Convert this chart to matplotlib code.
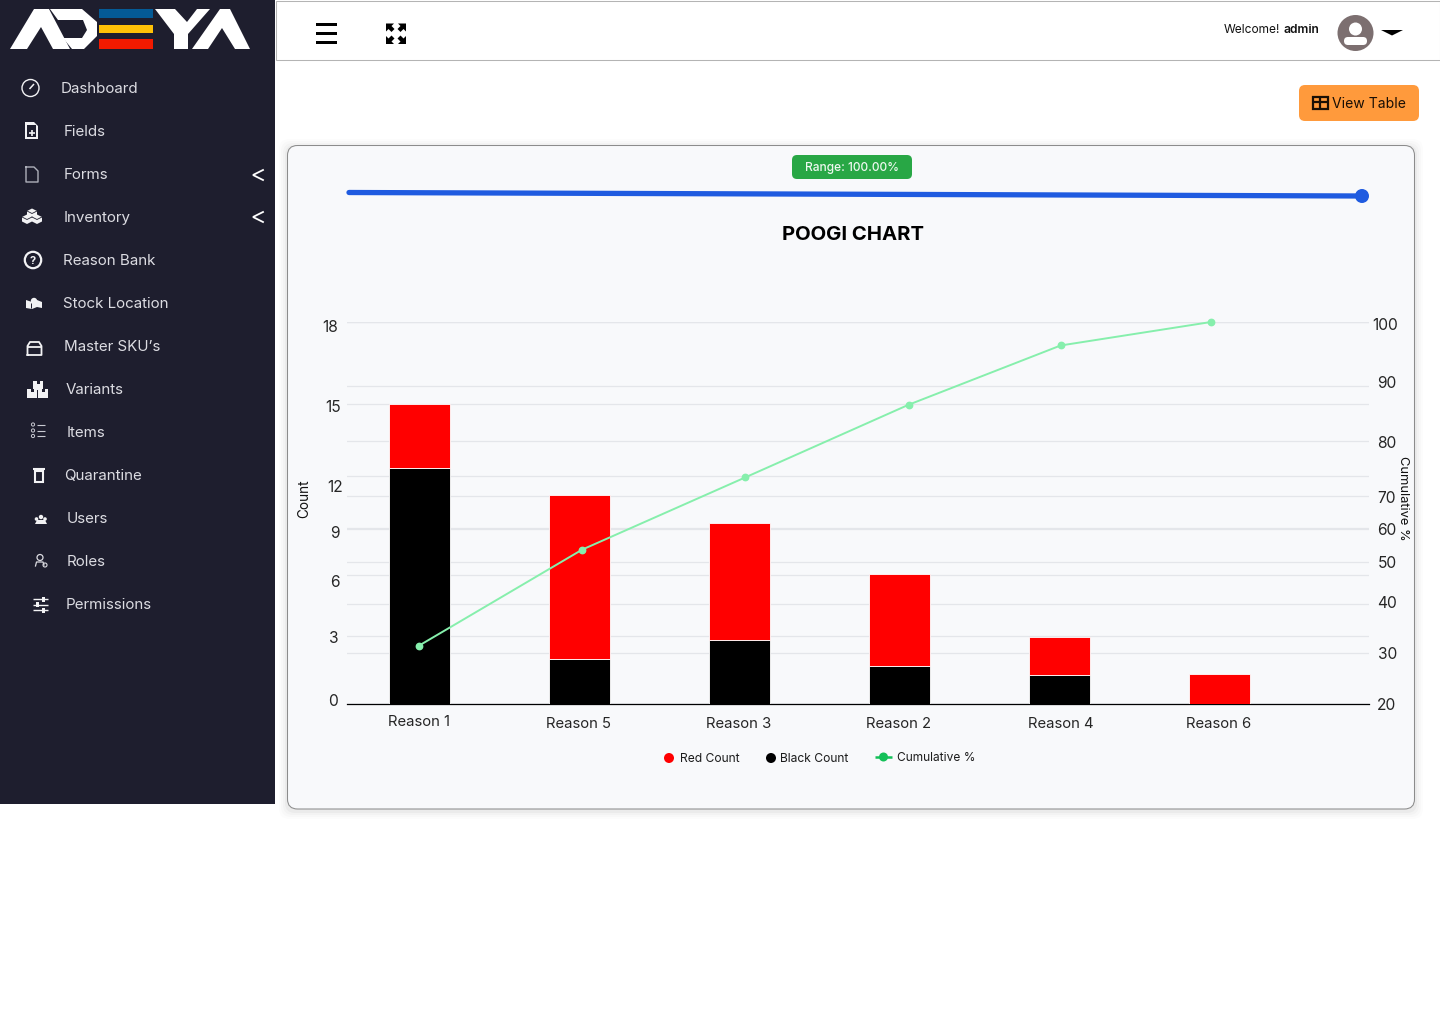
#!/usr/bin/env python3
"""POOGI chart inside the dashboard page."""

import numpy as np
import matplotlib
matplotlib.use('Agg')
import matplotlib.pyplot as plt
from matplotlib.patches import Circle, FancyBboxPatch, Polygon, Rectangle
from matplotlib.transforms import ScaledTranslation, blended_transform_factory

# --- Chart data ---
reasons = ['Reason 1', 'Reason 5', 'Reason 3', 'Reason 2', 'Reason 4', 'Reason 6']
black_count = [12.35, 2.0, 2.85, 1.7, 1.3, 0.0]
red_count = [2.65, 8.93, 6.47, 4.38, 1.67, 1.32]
line_x = [0.0, 1.02, 2.04, 3.06, 4.01, 4.95]
cumulative = [31.4, 53.6, 73.3, 86.5, 96.3, 100.0]

count_ticks = [0, 3, 6, 9, 12, 15, 18]
pct_ticks = [20, 30, 40, 50, 60, 70, 80, 90, 100]

# The printed axes are not evenly spaced, so keep tick heights (px above baseline)
count_heights = [0, 67.5, 128.5, 175.5, 227.5, 299.5, 381.5]
pct_heights = [0, 51.5, 100.5, 142.5, 175.5, 208.5, 263.5, 318.5, 382]

menu_items = ['Dashboard', 'Fields', 'Forms', 'Inventory', 'Reason Bank', 'Stock Location',
              "Master SKU\u2019s", 'Variants', 'Items', 'Quarantine', 'Users', 'Roles', 'Permissions']
menu_text_x = [61, 64, 64, 64, 63, 63, 64, 66, 67, 64, 67, 67, 66]

plt.rcParams['font.family'] = ['Inter', 'DejaVu Sans']

W, H = 1440, 1024
SIDEBAR = '#1e1e2e'
MENU_TEXT = '#dcdce2'
GRID = '#e4e6ea'

fig = plt.figure(figsize=(W / 100, H / 100), dpi=100, facecolor='white')

# --- Page chrome lives in one pixel-sized axes behind the chart ---
ui = fig.add_axes([0, 0, 1, 1], zorder=0)
ui.set_xlim(0, W)
ui.set_ylim(H, 0)
ui.axis('off')


def box(x0, y0, x1, y1, color, radius=0.0, edge='none', lw=0.0, alpha=None, z=1):
    p = FancyBboxPatch((x0, y0), x1 - x0, y1 - y0,
                       boxstyle=f'round,pad=0,rounding_size={radius}',
                       fc=color, ec=edge, lw=lw, alpha=alpha, zorder=z)
    ui.add_patch(p)


def rect(x0, y0, x1, y1, color, z=3, fill=True, lw=1.0):
    if fill:
        ui.add_patch(Rectangle((x0, y0), x1 - x0, y1 - y0, fc=color, ec='none', zorder=z))
    else:
        ui.add_patch(Rectangle((x0, y0), x1 - x0, y1 - y0, fc='none', ec=color, lw=lw, zorder=z))


def poly(pts, color, z=3):
    ui.add_patch(Polygon(pts, closed=True, fc=color, ec='none', zorder=z))


def dot(x, y, r, color, z=3, fill=True, lw=1.0):
    if fill:
        ui.add_patch(Circle((x, y), r, fc=color, ec='none', zorder=z))
    else:
        ui.add_patch(Circle((x, y), r, fc='none', ec=color, lw=lw, zorder=z))


def seg(xs, ys, color, lw=1.0, z=3):
    ui.plot(xs, ys, color=color, lw=lw, zorder=z, solid_capstyle='butt', solid_joinstyle='miter')


def label(x, y, s, size, color='#111111', weight='normal', ha='left'):
    ui.text(x, y, s, fontsize=size, color=color, fontweight=weight, ha=ha, va='center', zorder=5)


# Sidebar and header
rect(0, 0, 275, 804, SIDEBAR, z=1)
rect(275.5, 0.5, 1439.5, 59.5, '#b4b4b4', z=2, fill=False, lw=0.75)

# Logo
poly([(10, 49), (34, 9), (49, 9), (70, 49), (53, 49), (41, 27), (27, 49)], 'white')
poly([(50, 9), (82, 9), (97, 22), (97, 36), (84, 49), (72, 49), (63, 38), (82, 38), (87, 30), (83, 20), (58, 20)], 'white')
rect(99, 9, 153, 18, '#045a96')
rect(99, 25, 153, 33, '#ffc107')
rect(99, 39, 153, 49, '#f21a00')
poly([(155, 9), (175, 9), (187, 22), (197, 9), (210, 9), (188, 34), (188, 49), (174, 49), (174, 34)], 'white')
poly([(192, 49), (220, 9), (230, 9), (250, 49), (235, 49), (222, 28), (208, 49)], 'white')

# Menu
for i, (name, tx) in enumerate(zip(menu_items, menu_text_x)):
    label(tx, 89 + 43 * i, name, 10.9, MENU_TEXT)

WHITE = '#f2f2f4'
# Dashboard gauge
dot(30.5, 88, 8.5, WHITE, fill=False, lw=1.0)
seg([29.5, 34], [89, 84], WHITE, 1.1)
# Fields
poly([(25, 122), (34, 122), (38, 126), (38, 139), (25, 139)], WHITE)
rect(27, 124.5, 36, 137, SIDEBAR)
seg([28.5, 34.5], [133, 133], WHITE, 1.2)
seg([31.5, 31.5], [130, 136], WHITE, 1.2)
# Forms
ui.plot([26, 34, 38, 38, 26, 26], [167, 167, 171, 182, 182, 167], color='#aeb0ba', lw=1.0, zorder=3)
# Inventory cubes
for cx, cy in [(32, 213), (27, 219), (37, 219)]:
    poly([(cx, cy - 4.5), (cx + 5, cy - 2), (cx + 5, cy + 2.5), (cx, cy + 5), (cx - 5, cy + 2.5), (cx - 5, cy - 2)], WHITE)
    ui.plot([cx - 5, cx, cx + 5], [cy - 2, cy + 0.5, cy - 2], color=SIDEBAR, lw=0.6, zorder=4)
# Reason Bank
dot(33, 260, 8.2, WHITE, fill=False, lw=1.6)
ui.text(33, 260.5, '?', fontsize=8, color=WHITE, fontweight='bold', ha='center', va='center', zorder=5)
# Stock Location
poly([(26, 300), (32, 302), (37, 300), (42, 302), (42, 308), (37, 307), (32, 309), (26, 308)], WHITE)
dot(34, 301, 3.2, WHITE)
seg([31, 31], [303, 308], SIDEBAR, 0.7, z=4)
# Master SKU's
ui.plot([27.5, 27.5, 30, 39, 41.5, 41.5, 27.5], [355, 346, 342, 342, 346, 355, 355], color=WHITE, lw=1.3, zorder=3)
seg([27.5, 41.5], [347, 347], WHITE, 1.3)
# Variants
for bx, by in [(33, 381), (27, 389), (38, 389)]:
    rect(bx, by, bx + 10, by + 8.5, WHITE)
    rect(bx + 3.5, by, bx + 6.5, by + 3, SIDEBAR, z=4)
# Items
for yy in [424.5, 430.5, 436]:
    dot(33, yy, 1.6, '#c9cad2', fill=False, lw=0.7)
    seg([37, 45], [yy, yy], '#c9cad2', 0.8)
# Quarantine
rect(34.5, 471, 43, 482, WHITE, fill=False, lw=1.5)
seg([33, 44.5], [469, 469], WHITE, 1.5)
# Users
dot(41, 517, 2.2, WHITE)
dot(36.5, 519, 1.8, WHITE)
dot(45, 519, 1.8, WHITE)
poly([(35, 524), (37, 520), (45, 520), (47, 524)], WHITE)
# Roles
dot(40, 557.5, 3, '#dcdce2', fill=False, lw=0.9)
ui.plot([35.5, 36.5, 43, 44], [566, 562, 562, 565], color='#dcdce2', lw=0.9, zorder=3)
dot(45, 565, 2, '#dcdce2', fill=False, lw=0.8)
# Permissions
for yy, kx in [(599, 43), (604.5, 37), (610, 43)]:
    seg([33, 48], [yy, yy], WHITE, 1.0)
    rect(kx - 1.5, yy - 2.5, kx + 1.5, yy + 2.5, WHITE)
# Chevrons
for cy in [175, 217]:
    ui.plot([263, 253, 263], [cy - 5, cy, cy + 5], color='white', lw=1.3, zorder=3, solid_joinstyle='miter')

# Header icons
for yy in [24.5, 33.5, 42.5]:
    rect(316, yy - 1.5, 337, yy + 1.5, 'black')
for cx, cy, sx, sy in [(386, 23.5, 1, 1), (406, 23.5, -1, 1), (386, 44, 1, -1), (406, 44, -1, -1)]:
    poly([(cx, cy), (cx + 8 * sx, cy), (cx + 5.5 * sx, cy + 2.5 * sy), (cx + 8.5 * sx, cy + 5.5 * sy),
          (cx + 5.5 * sx, cy + 8.5 * sy), (cx + 2.5 * sx, cy + 5.5 * sy), (cx, cy + 8 * sy)], 'black')

label(1224, 30, 'Welcome!', 8.6)
label(1283, 30, 'admin', 8.7, weight='semibold')
dot(1355.5, 33, 18, '#7c6f70')
dot(1355.5, 29, 6.5, 'white')
box(1344, 37, 1367, 45, 'white', radius=4, z=4)
poly([(1381, 30), (1403, 30), (1392, 35.5)], 'black')

# View Table button
box(1299, 85, 1419, 121, '#ff9a3c', radius=6)
rect(1312.5, 97, 1327.5, 109, '#1a0f05', fill=False, lw=1.6)
seg([1312, 1328], [102, 102], '#1a0f05', 1.6)
seg([1320, 1320], [97, 109], '#1a0f05', 1.6)
label(1332, 104, 'View Table', 10.1, '#1a0f05')

# Card with a soft shadow
for grow, a in [(8, 0.012), (6, 0.015), (4, 0.02), (2, 0.03)]:
    box(287 - grow, 147 - grow, 1415 + grow, 811 + grow, 'black', radius=10, alpha=a, z=1)
box(287.5, 145.5, 1414.5, 809, '#f8f9fb', radius=10, edge='#8c8c8c', lw=0.75, z=2)

# Range slider
box(792, 155, 912, 179, '#28a745', radius=5, z=3)
ui.text(852, 168, 'Range: 100.00%', fontsize=8.6, color='#eef8f0', fontweight='medium', ha='center', va='center', zorder=5)
ui.plot([349, 1362], [192.5, 196], color='#1f5be0', lw=3.8, zorder=3, solid_capstyle='round')
dot(1362, 196, 7, '#1f5be0')

label(853, 234.5, 'POOGI CHART', 14.6, 'black', 'bold', ha='center')

# Legend
dot(669, 758, 5, '#ff0000')
label(680, 759, 'Red Count', 8.7, '#1c1c1c')
dot(771, 758, 5, 'black')
label(780, 759, 'Black Count', 8.7, '#1c1c1c')
seg([875, 892], [757, 757], '#14c058', 1.8)
dot(883.5, 757, 4.5, '#14c058')
label(897, 758, 'Cumulative %', 8.6, '#1c1c1c')

# --- Chart axes ---
left, right, top, bottom = 347, 1369, 322, 704
rect_ax = [left / W, 1 - bottom / H, (right - left) / W, (bottom - top) / H]

ax_pct = fig.add_axes(rect_ax, zorder=1)
ax = fig.add_axes(rect_ax, zorder=2, sharex=ax_pct)
ax.patch.set_visible(False)
ax_pct.patch.set_visible(False)

ax.set_yscale('function', functions=(lambda v: np.interp(v, count_ticks, count_heights),
                                     lambda h: np.interp(h, count_heights, count_ticks)))
ax_pct.set_yscale('function', functions=(lambda v: np.interp(v, pct_ticks, pct_heights),
                                         lambda h: np.interp(h, pct_heights, pct_ticks)))

x = np.arange(len(reasons))
bar_w = 61 / 160
ax.bar(x, black_count, bar_w, color='black', edgecolor='white', linewidth=0.6, zorder=3)
ax.bar(x, red_count, bar_w, bottom=black_count, color='#ff0000', edgecolor='white', linewidth=0.6, zorder=3)

# Line uses the percent scale but has to sit on top of the bars
line_tf = blended_transform_factory(ax.transData, ax_pct.transData)
ax.plot(line_x, cumulative, color='#86efac', lw=1.4, marker='o', ms=4.6, transform=line_tf, zorder=4, clip_on=False)

ax.set_xlim((left - 419) / 160, (right - 419) / 160)
ax.set_ylim(0, 18)
ax_pct.set_ylim(20, 100)

ax.set_yticks(count_ticks)
ax.set_yticklabels([str(t) for t in count_ticks])
ax.set_xticks(x)
ax.set_xticklabels(reasons)
ax_pct.yaxis.tick_right()
ax_pct.set_yticks(pct_ticks)
ax_pct.set_yticklabels([str(t) for t in pct_ticks])
ax.minorticks_off()
ax_pct.minorticks_off()

ax.set_axisbelow(True)
ax.grid(axis='y', color=GRID, lw=0.9)
ax_pct.grid(axis='y', color=GRID, lw=0.9)
ax.tick_params(axis='y', length=0, labelsize=11.2, labelcolor='#262626')
ax.tick_params(axis='x', length=0, labelsize=10.7, labelcolor='#262626', pad=9.5)
ax_pct.tick_params(axis='y', length=0, labelsize=11.2, labelcolor='#262626', pad=4)
ax_pct.tick_params(axis='x', length=0, labelbottom=False)

for a in (ax, ax_pct):
    for side in ('top', 'left', 'right', 'bottom'):
        a.spines[side].set_visible(False)
ax.spines['bottom'].set_visible(True)
ax.spines['bottom'].set_color('black')
ax.spines['bottom'].set_linewidth(0.9)


def nudge(tick_label, dx, dy):
    # offsets in pixels, y measured downwards as on the page
    tick_label.set_transform(tick_label.get_transform() + ScaledTranslation(dx / 100, -dy / 100, fig.dpi_scale_trans))


for t, (dx, dy) in zip(ax.get_yticklabels(), [(-4, -3.5), (-4, 0.5), (-3, 5.5), (-3, 3.5), (1, 9.5), (-1, 1.5), (-4, 4.5)]):
    nudge(t, dx, dy)
for t, (dx, dy) in zip(ax_pct.get_yticklabels(), [(2, 0.5), (3, 0.5), (3, -1.5), (3, 0.5), (3, 0.5), (3, 1.5), (3, 1.5), (3, -3.5), (-2, 1.5)]):
    nudge(t, dx, dy)
for t, (dx, dy) in zip(ax.get_xticklabels(), [(0, -2), (-1, 0), (0, 0), (0, 0), (2, 0), (0, 0)]):
    nudge(t, dx, dy)

ui.text(304, 499, 'Count', fontsize=9.8, color='#111111', rotation=90, ha='center', va='center', zorder=5)
ui.text(1402.5, 498, 'Cumulative %', fontsize=9.3, color='#111111', rotation=270, ha='center', va='center', zorder=5)

fig.savefig('out.png', dpi=100)
